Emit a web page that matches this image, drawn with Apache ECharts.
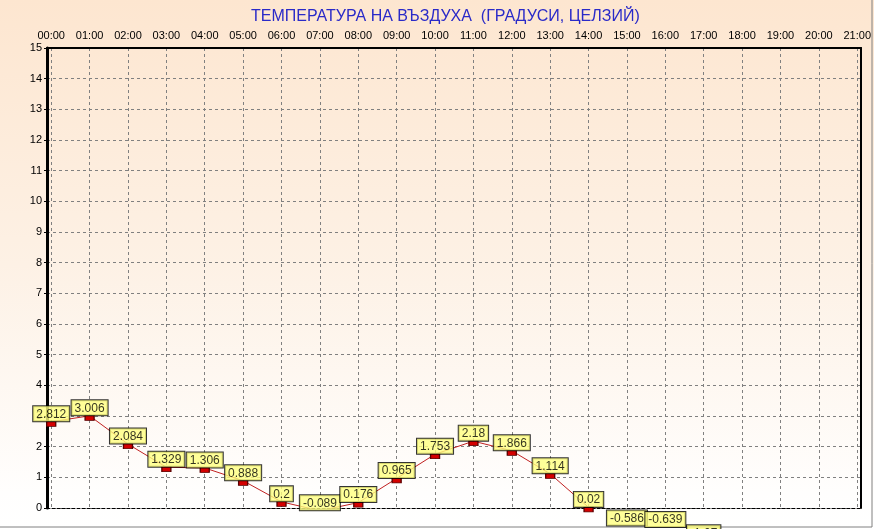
<!DOCTYPE html>
<html>
<head>
<meta charset="utf-8">
<script src="https://cdn.jsdelivr.net/npm/echarts@6/dist/echarts.min.js"></script>
<style>
  html, body { margin: 0; padding: 0; }
  #chart { width: 874px; height: 529px; }
</style>
</head>
<body>
<div id="chart"></div>
<script>
// hours of the day shown on the top axis
const hourLabels = ['00:00', '01:00', '02:00', '03:00', '04:00', '05:00', '06:00', '07:00',
  '08:00', '09:00', '10:00', '11:00', '12:00', '13:00', '14:00', '15:00', '16:00', '17:00',
  '18:00', '19:00', '20:00', '21:00'];
// air temperature, deg C (last value is cut off in the picture, estimated)
const temperature = [2.812, 3.006, 2.084, 1.329, 1.306, 0.888, 0.2, -0.089, 0.176, 0.965,
  1.753, 2.18, 1.866, 1.114, 0.02, -0.586, -0.639, -1.07];

const hourTicks = hourLabels.map((_, i) => i);
const points = temperature.map((v, i) => [i, v]);

const chart = echarts.init(document.getElementById('chart'));

const font = 'Arial, "Liberation Sans"';

const option = {
  animation: false,
  backgroundColor: new echarts.graphic.LinearGradient(0, 0, 0, 1, [
    { offset: 0, color: '#fde6d0' },
    { offset: 0.5, color: '#fdf1e5' },
    { offset: 0.93, color: '#fffefd' },
    { offset: 1, color: '#ffffff' }
  ]),
  title: {
    text: 'ТЕМПЕРАТУРА НА ВЪЗДУХА  (ГРАДУСИ, ЦЕЛЗИЙ)',
    left: 246,
    top: 4,
    textStyle: { color: '#2a2ac8', fontSize: 16, fontWeight: 'normal', fontFamily: font }
  },
  grid: { left: 47, right: 9, top: 48, bottom: 21 },
  xAxis: [
    {
      type: 'value',
      position: 'top',
      min: -0.11,
      max: 21.1,
      axisLine: { show: true, onZero: false, lineStyle: { color: '#000', width: 2 } },
      axisTick: { show: false, customValues: hourTicks },
      axisLabel: {
        customValues: hourTicks,
        formatter: (v) => hourLabels[Math.round(v)],
        color: '#000',
        fontSize: 11,
        fontFamily: font,
        margin: 7
      },
      splitLine: { show: true, lineStyle: { color: '#808080', type: [3, 3], width: 1 } }
    },
    {
      type: 'value',
      position: 'bottom',
      min: -0.11,
      max: 21.1,
      axisLine: { show: true, onZero: false, lineStyle: { color: '#000', width: 1, type: [3, 2] } },
      axisTick: { show: false },
      axisLabel: { show: false },
      splitLine: { show: false }
    }
  ],
  yAxis: [
    {
      type: 'value',
      min: 0,
      max: 15,
      interval: 1,
      axisLine: { show: true, onZero: false, lineStyle: { color: '#000', width: 3 } },
      axisTick: { show: true, length: 3, lineStyle: { color: '#000' } },
      axisLabel: { color: '#000', fontSize: 11, fontFamily: font, margin: 5 },
      splitLine: { show: true, lineStyle: { color: '#808080', type: [3, 3], width: 1 } }
    },
    {
      type: 'value',
      position: 'right',
      min: 0,
      max: 15,
      interval: 1,
      axisLine: { show: true, onZero: false, lineStyle: { color: '#000', width: 2 } },
      axisTick: { show: false },
      axisLabel: { show: false },
      splitLine: { show: false }
    }
  ],
  series: [
    {
      type: 'line',
      data: points,
      clip: true,
      symbol: 'rect',
      symbolSize: [9, 5],
      symbolOffset: [0, 2],
      showAllSymbol: true,
      lineStyle: { color: '#c02020', width: 1 },
      itemStyle: { color: '#d40000', borderColor: '#5a0000', borderWidth: 1 },
      z: 3
    },
    {
      type: 'scatter',
      data: points,
      clip: false,
      symbol: 'rect',
      symbolSize: [9, 5],
      symbolOffset: [0, 2],
      itemStyle: { color: 'rgba(0,0,0,0)' },
      label: {
        show: true,
        position: 'top',
        distance: 0,
        formatter: (p) => String(p.value[1]),
        color: '#000',
        fontSize: 12,
        fontFamily: font,
        backgroundColor: '#ffff80',
        borderColor: '#000',
        borderWidth: 1,
        padding: [2, 3, 1, 3]
      },
      z: 5
    }
  ],
  graphic: [
    { type: 'line', shape: { x1: 872, y1: 0, x2: 872, y2: 527 }, style: { stroke: '#808080', lineWidth: 1 } },
    { type: 'line', shape: { x1: 0, y1: 527, x2: 872, y2: 527 }, style: { stroke: '#808080', lineWidth: 1 } }
  ]
};

chart.setOption(option);
</script>
</body>
</html>
